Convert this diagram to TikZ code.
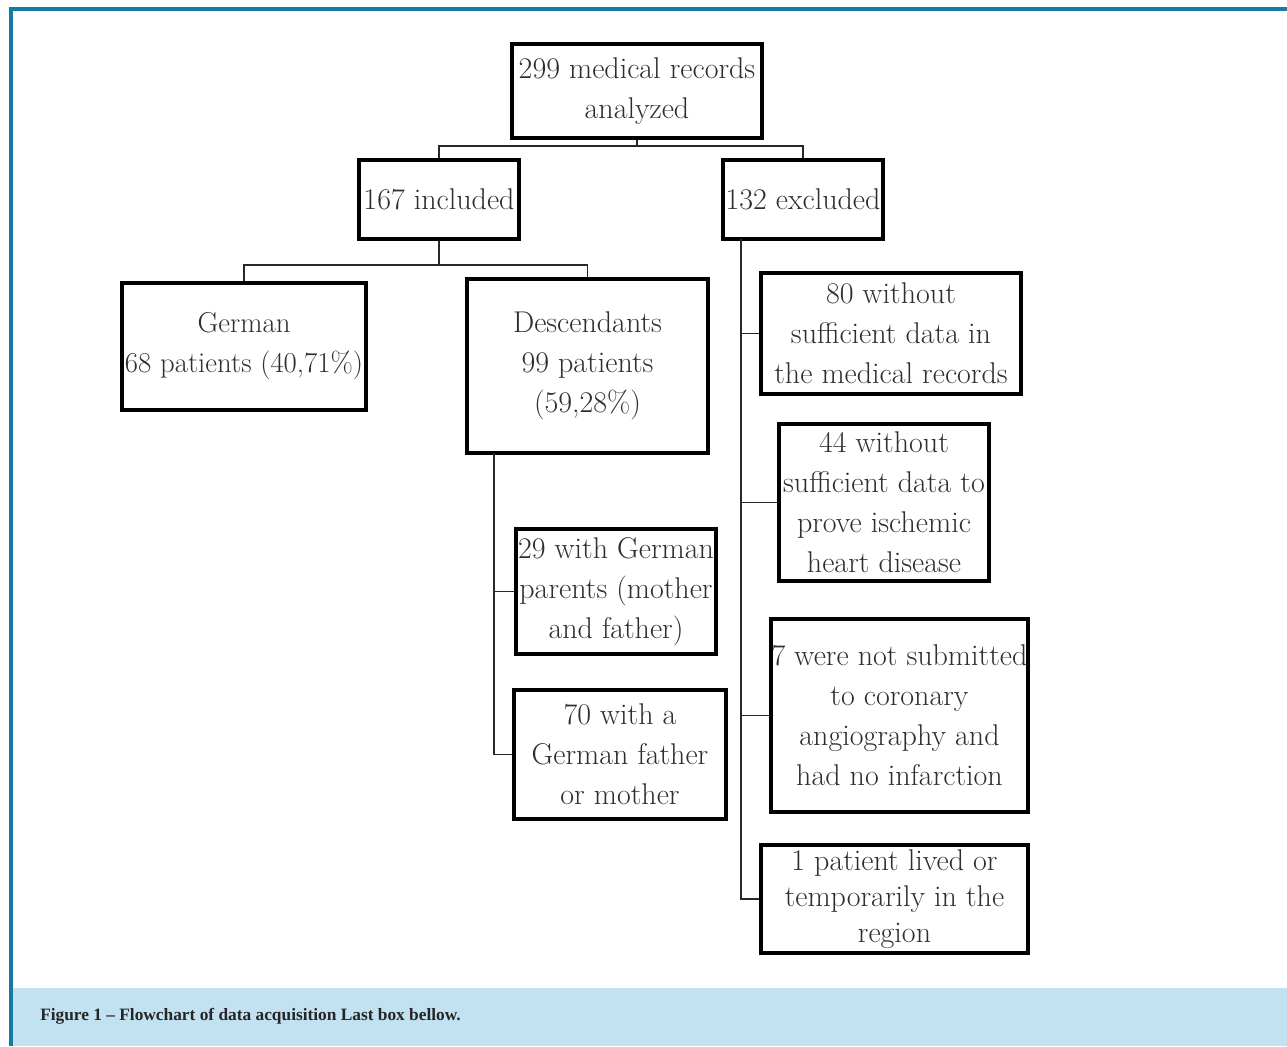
\documentclass[tikz,border=0pt]{standalone}
\usepackage{fontspec}
\newfontfamily\capfont{Liberation Serif}
\definecolor{framecol}{RGB}{22,122,166}
\definecolor{capcol}{RGB}{194,226,242}
\definecolor{linecol}{RGB}{40,40,40}
\newcommand\mybox[7][]{%
  \node[boxst, minimum width={(#5-#3)*0.75pt}, minimum height={(#6-#4)*0.75pt}, #1]
    (#2) at ({(#3+#5)/2},{(#4+#6)/2}) {#7};}
\begin{document}
\begin{tikzpicture}[x=0.75pt,y=-0.75pt,
  boxst/.style={draw=black, line width=3pt, inner sep=0pt, align=center,
    font=\fontsize{22.5}{30}\selectfont, text=black!82},
  tight/.style={font=\fontsize{22.5}{27}\selectfont},
  narrow/.style={font=\fontsize{21.6}{30}\selectfont},
  conn/.style={draw=linecol, line width=1.4pt}]
\useasboundingbox (0,0) rectangle (1287,1046);
% frame and caption band
\fill[capcol] (12,988) rectangle (1287,1046);
\draw[framecol, line width=2.4pt] (1287,9) -- (11,9) -- (11,1046);
\node[anchor=west, inner sep=0pt, font=\capfont\bfseries\fontsize{13}{15}\selectfont, text=black!85] (cap) at (40,1016)
  {Figure 1 – Flowchart of data acquisition Last box bellow.};
% boxes
\mybox{A}{512}{44}{762}{138}{299 medical records\\analyzed}
\mybox{B}{359}{160}{519}{239}{167 included}
\mybox{C}{723}{160}{883}{239}{132 excluded}
\mybox[narrow]{D}{122}{283}{366}{410}{German\\68 patients (40,71\%)}
\mybox{E}{467}{279}{708}{453}{Descendants\\99 patients\\(59,28\%)}
\mybox{F}{516}{529}{716}{654}{29 with German\\parents (mother\\and father)}
\mybox{G}{514}{690}{726}{819}{70 with a\\German father\\or mother}
\mybox{H}{761}{273}{1021}{394}{80 without\\sufficient data in\\the medical records}
\mybox{I}{779}{424}{989}{581}{44 without\\sufficient data to\\prove ischemic\\heart disease}
\mybox{J}{771}{619}{1028}{812}{7 were not submitted\\to coronary\\angiography and\\had no infarction}
\mybox[tight]{K}{761}{845}{1028}{953}{1 patient lived or\\temporarily in the\\region}
% connectors
\coordinate (j1) at (637,146);
\draw[conn] (A.south) -- (j1);
\draw[conn] (j1) -| (B.north);
\draw[conn] (j1) -| (C.north);
\coordinate (j2) at (439,265);
\draw[conn] (B.south) -- (j2);
\draw[conn] (j2) -| (D.north);
\draw[conn] (j2) -| (E.north);
\coordinate (e0) at (494,453);
\draw[conn] (e0) |- (F.west);
\draw[conn] (e0) |- (G.west);
\coordinate (c0) at (741,239);
\draw[conn] (c0) |- (H.west);
\draw[conn] (c0) |- (I.west);
\draw[conn] (c0) |- (J.west);
\draw[conn] (c0) |- (K.west);
\end{tikzpicture}
\end{document}
